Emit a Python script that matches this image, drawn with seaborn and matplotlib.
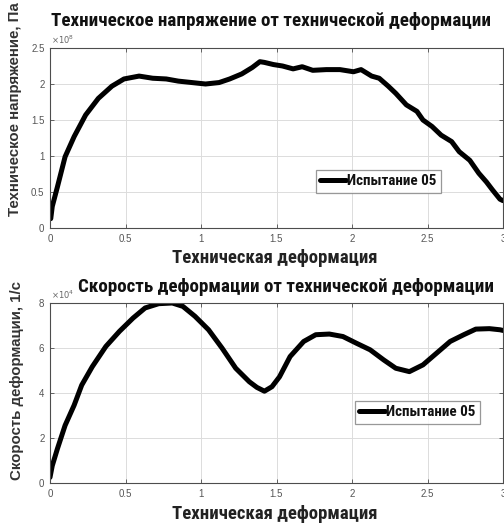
import matplotlib
matplotlib.use("Agg")
import matplotlib.pyplot as plt
import seaborn as sns
from matplotlib.ticker import FuncFormatter, MultipleLocator

sns.set_theme(style="white")
COND = ['Roboto Condensed', 'PT Sans Narrow', 'Liberation Sans', 'DejaVu Sans']
REG = ['Liberation Sans', 'DejaVu Sans']
plt.rcParams['font.family'] = REG

# ---- data ----
strain_stress = [0.005, 0.015, 0.049, 0.10, 0.16, 0.236, 0.32, 0.41, 0.49, 0.59,
                 0.68, 0.77, 0.85, 0.94, 1.03, 1.12, 1.19, 1.27, 1.34, 1.39,
                 1.42, 1.48, 1.54, 1.61, 1.67, 1.74, 1.83, 1.92, 2.01, 2.06,
                 2.13, 2.18, 2.24, 2.29, 2.36, 2.43, 2.47, 2.53, 2.59, 2.66,
                 2.71, 2.78, 2.84, 2.89, 2.93, 2.98, 3.0]
stress_pa = [0.13e8, 0.30e8, 0.57e8, 0.99e8, 1.27e8, 1.57e8, 1.80e8, 1.97e8, 2.07e8, 2.11e8,
             2.08e8, 2.07e8, 2.04e8, 2.02e8, 2.00e8, 2.02e8, 2.07e8, 2.14e8, 2.23e8, 2.31e8,
             2.30e8, 2.27e8, 2.25e8, 2.21e8, 2.24e8, 2.19e8, 2.20e8, 2.20e8, 2.17e8, 2.20e8,
             2.11e8, 2.08e8, 1.97e8, 1.87e8, 1.71e8, 1.62e8, 1.50e8, 1.41e8, 1.29e8, 1.20e8,
             1.06e8, 0.94e8, 0.76e8, 0.64e8, 0.53e8, 0.40e8, 0.38e8]

strain_rate_x = [0.0, 0.015, 0.049, 0.10, 0.16, 0.21, 0.28, 0.37, 0.46, 0.55,
                 0.63, 0.72, 0.81, 0.88, 0.96, 1.05, 1.14, 1.23, 1.32, 1.37,
                 1.42, 1.47, 1.52, 1.59, 1.68, 1.76, 1.85, 1.94, 2.03, 2.12,
                 2.21, 2.29, 2.38, 2.47, 2.56, 2.65, 2.74, 2.82, 2.91, 2.98, 3.0]
strain_rate = [0.25e4, 0.77e4, 1.52e4, 2.56e4, 3.46e4, 4.35e4, 5.17e4, 6.07e4, 6.74e4, 7.33e4,
               7.78e4, 7.97e4, 8.00e4, 7.85e4, 7.41e4, 6.81e4, 5.99e4, 5.10e4, 4.50e4, 4.25e4,
               4.08e4, 4.28e4, 4.72e4, 5.62e4, 6.29e4, 6.59e4, 6.62e4, 6.51e4, 6.21e4, 5.92e4,
               5.47e4, 5.10e4, 4.95e4, 5.25e4, 5.77e4, 6.29e4, 6.59e4, 6.84e4, 6.86e4, 6.81e4, 6.78e4]

series_label = "Испытание 05"
title1 = "Техническое напряжение от технической деформации"
title2 = "Скорость деформации от технической деформации"
xlabel = "Техническая деформация"
ylabel1 = "Техническое напряжение, Па"
ylabel2 = "Скорость деформации, 1/с"

W, H = 504, 525
fig = plt.figure(figsize=(W / 100, H / 100), dpi=100)
fig.patch.set_facecolor('white')


def px(x, y):
    return x / W, 1 - y / H


def make_axes(top, bottom):
    left, right = 50, 503
    return fig.add_axes([left / W, 1 - bottom / H, (right - left) / W, (bottom - top) / H])


ax1 = make_axes(48, 228)
ax2 = make_axes(303, 483)


def style(ax, ymax, ystep, scale, exp, legend_xy):
    ax.set_xlim(0, 3)
    ax.set_ylim(0, ymax)
    ax.xaxis.set_major_locator(MultipleLocator(0.5))
    ax.yaxis.set_major_locator(MultipleLocator(ystep))
    ax.xaxis.set_major_formatter(FuncFormatter(lambda v, p: f"{v:g}"))
    ax.yaxis.set_major_formatter(FuncFormatter(lambda v, p: f"{v / scale:g}"))
    ax.grid(True, color='#dcdcdc', linewidth=0.7)
    ax.set_axisbelow(True)
    for s in ax.spines.values():
        s.set_color('#4d4d4d')
        s.set_linewidth(0.8)
        s.set_visible(True)
    ax.tick_params(direction='in', length=3, width=0.6, colors='#4d4d4d',
                   labelcolor='#555555', labelsize=7, top=True, right=True,
                   bottom=True, left=True, pad=4)
    ax.set_xlabel("")
    ax.set_ylabel("")
    ax.text(0.003, 1.01, r"$\times10^{%d}$" % exp, transform=ax.transAxes,
            ha='left', va='bottom', fontsize=6, color='#666666')
    leg = ax.legend(loc='center', bbox_to_anchor=legend_xy, frameon=True,
                    fancybox=False, handlelength=1.7, handletextpad=0.12,
                    borderpad=0.3, borderaxespad=0,
                    prop={'family': COND, 'weight': 'bold', 'size': 10.8})
    leg.get_frame().set_edgecolor('#7f7f7f')
    leg.get_frame().set_linewidth(0.9)
    for t in leg.get_texts():
        t.set_color('#111111')


sns.lineplot(x=strain_stress, y=stress_pa, ax=ax1, color='black', linewidth=3.6,
             sort=False, label=series_label, solid_joinstyle='round', solid_capstyle='round')
sns.lineplot(x=strain_rate_x, y=strain_rate, ax=ax2, color='black', linewidth=3.6,
             sort=False, label=series_label, solid_joinstyle='round', solid_capstyle='round')

style(ax1, 2.5e8, 0.5e8, 1e8, 8, (0.725, 0.261))
style(ax2, 8e4, 2e4, 1e4, 4, (0.811, 0.394))

# titles and labels
fig.text(*px(271, 26), title1, ha='center', va='baseline', fontsize=13.7,
         fontweight='bold', color='#111111', family=COND)
fig.text(*px(286, 292), title2, ha='center', va='baseline', fontsize=13.7,
         fontweight='bold', color='#111111', family=COND)
fig.text(*px(275, 263), xlabel, ha='center', va='baseline', fontsize=13.5,
         fontweight='bold', color='#222222', family=COND)
fig.text(*px(275, 519), xlabel, ha='center', va='baseline', fontsize=13.5,
         fontweight='bold', color='#222222', family=COND)
fig.text(*px(15, 109), ylabel1, ha='center', va='center', rotation=90,
         fontsize=10.8, fontweight='bold', color='#333333', family=REG)
fig.text(*px(17, 381), ylabel2, ha='center', va='center', rotation=90,
         fontsize=10.8, fontweight='bold', color='#333333', family=REG)

fig.savefig("out.png", dpi=100, facecolor='white')
